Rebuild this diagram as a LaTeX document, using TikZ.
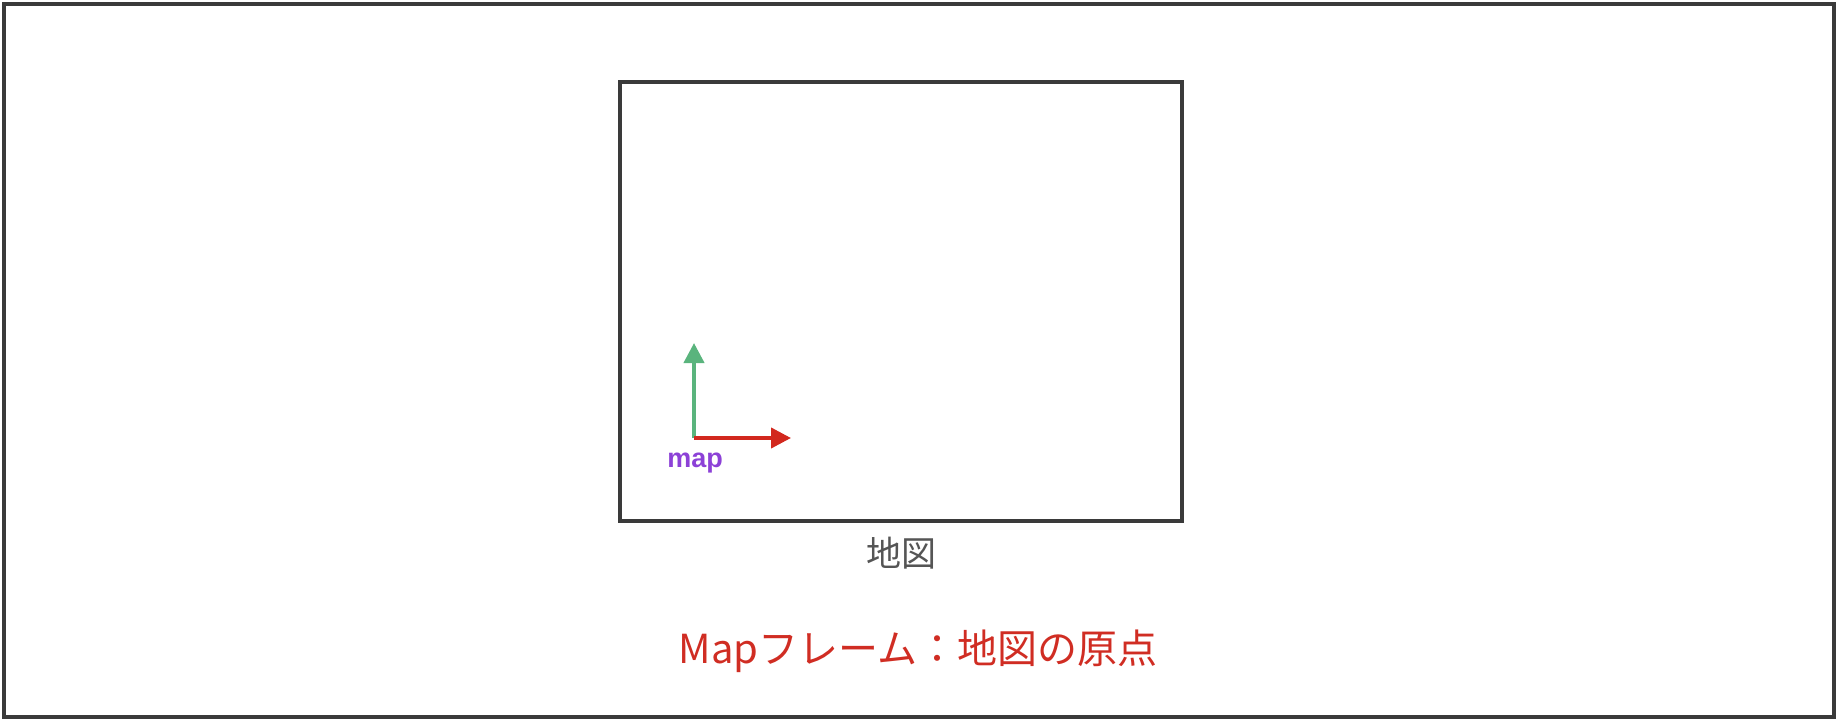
\documentclass[tikz,border=0pt]{standalone}
\usepackage{fontspec}
\usetikzlibrary{positioning,arrows.meta}
\newfontfamily\jpfont{Noto Sans CJK JP}
\newfontfamily\labelfont{Liberation Sans}
\definecolor{framegray}{RGB}{58,58,58}
\definecolor{axisgreen}{RGB}{90,180,125}
\definecolor{axisred}{RGB}{210,40,30}
\definecolor{mappurple}{RGB}{140,65,215}
\definecolor{titlered}{RGB}{208,45,35}
\definecolor{capgray}{RGB}{85,85,85}
\begin{document}
\begin{tikzpicture}[x=1pt,y=-1pt,
  frame/.style={draw=framegray, line width=4pt},
  mapframe/.style={frame, minimum width=562pt, minimum height=439pt, inner sep=0pt},
  axis/.style={line width=4pt, -{Triangle[length=20pt,width=20pt]}},
  caption/.style={font=\jpfont\fontsize{35}{42}\selectfont, text=capgray, inner sep=0pt},
  mapname/.style={font=\labelfont\bfseries\fontsize{27}{32}\selectfont, text=mappurple, inner sep=0pt},
  frametitle/.style={font=\jpfont\fontsize{40}{48}\selectfont, text=titlered, inner sep=0pt}]

\useasboundingbox (0,0) rectangle (1838,722);
\draw[frame] (4,4) rectangle (1834,717);

\node[mapframe] (mapbox) at (901,301.5) {};
\node[caption, below=13.5pt of mapbox] (mapcap) {地図};
\node[frametitle, anchor=base] (title) at (918,663) {Mapフレーム：地図の原点};

\coordinate (origin) at (694,438);
\coordinate[above=95pt of origin] (yaxis);
\coordinate[right=97pt of origin] (xaxis);
\node[mapname, anchor=base] (maplbl) at (695,467) {map};

\foreach \tip/\col in {yaxis/axisgreen,xaxis/axisred}
  \draw[axis, \col] (origin) -- (\tip);

\end{tikzpicture}
\end{document}
